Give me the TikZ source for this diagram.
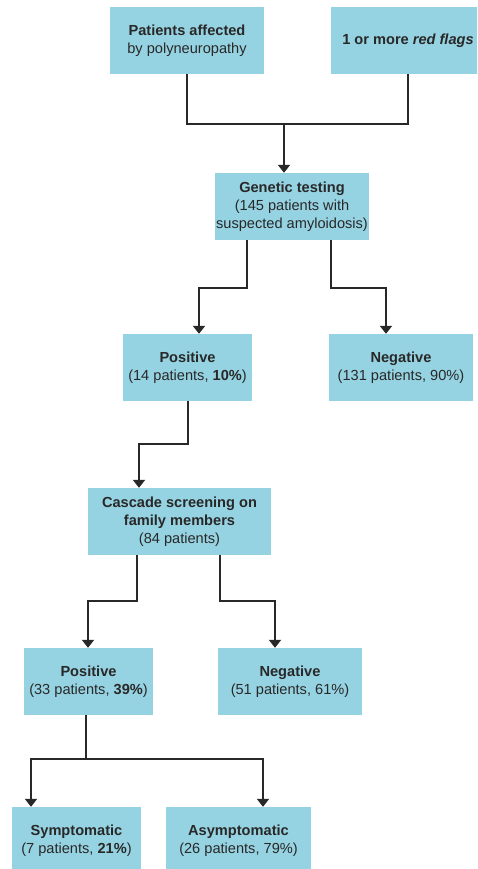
\documentclass[tikz,border=0pt]{standalone}
\usepackage{fontspec}
\setmainfont{Liberation Sans}
\usetikzlibrary{arrows.meta}
\definecolor{boxblue}{RGB}{150,211,226}
\definecolor{ink}{RGB}{40,40,40}
\begin{document}
\begin{tikzpicture}[x=1pt,y=-1pt,
  box/.style={fill=boxblue, draw=none, minimum height=67pt, inner sep=0pt,
    align=center, text=ink, font=\fontsize{14.6}{17.8}\selectfont},
  conn/.style={draw=ink, line width=2.2pt},
  arr/.style={conn, -{Triangle[width=12pt,length=8pt]}}]
\useasboundingbox (0,0) rectangle (477,869);
\clip (0,0) rectangle (477,869);
\fill[white] (0,0) rectangle (477,869);

\node[box, minimum width=154pt] (pat) at (187,40.5) {\textbf{Patients affected}\\by polyneuropathy};
\node[box, minimum width=154pt] (red) at (408,40.5) {\textbf{1 or more \textit{red flags}}};
\node[box, minimum width=154pt] (gen) at (292,206.5) {\textbf{Genetic testing}\\(145 patients with\\suspected amyloidosis)};
\node[box, minimum width=129pt] (pos1) at (187.5,367.5) {\textbf{Positive}\\(14 patients, \textbf{10\%})};
\node[box, minimum width=144pt] (neg1) at (401,367.5) {\textbf{Negative}\\(131 patients, 90\%)};
\node[box, minimum width=183pt] (casc) at (179.5,521.5) {\textbf{Cascade screening on}\\\textbf{family members}\\(84 patients)};
\node[box, minimum width=129pt] (pos2) at (88.5,681.5) {\textbf{Positive}\\(33 patients, \textbf{39\%})};
\node[box, minimum width=144pt] (neg2) at (290,681.5) {\textbf{Negative}\\(51 patients, 61\%)};
\node[box, minimum width=129pt] (sym) at (76.5,840.5) {\textbf{Symptomatic}\\(7 patients, \textbf{21\%})};
\node[box, minimum width=145pt] (asym) at (238.5,840.5) {\textbf{Asymptomatic}\\(26 patients, 79\%)};

% top merge
\draw[conn] (pat.south) -- ++(0,50) -| (red.south);
\draw[arr] ([xshift=-8pt,yshift=50pt]gen.north) -- ([xshift=-8pt]gen.north);
% genetic testing
\draw[arr] ([xshift=-45pt]gen.south) -- ++(0,48) -| ([xshift=11.5pt]pos1.north);
\draw[arr] ([xshift=39pt]gen.south) -- ++(0,48) -| ([xshift=-15pt]neg1.north);
% positive -> cascade
\draw[arr] ([xshift=0.5pt]pos1.south) -- ++(0,43) -| ([xshift=-40.5pt]casc.north);
% cascade
\draw[arr] ([xshift=-42.5pt]casc.south) -- ++(0,46) -| ([xshift=-0.5pt]pos2.north);
\draw[arr] ([xshift=40.5pt]casc.south) -- ++(0,46) -| ([xshift=-15pt]neg2.north);
% positive 2
\draw[arr] ([xshift=-2.5pt]pos2.south) -- ++(0,44) -| ([xshift=-45.5pt]sym.north);
\draw[arr] ([xshift=-2.5pt]pos2.south) -- ++(0,44) -| ([xshift=24.5pt]asym.north);
\end{tikzpicture}
\end{document}
